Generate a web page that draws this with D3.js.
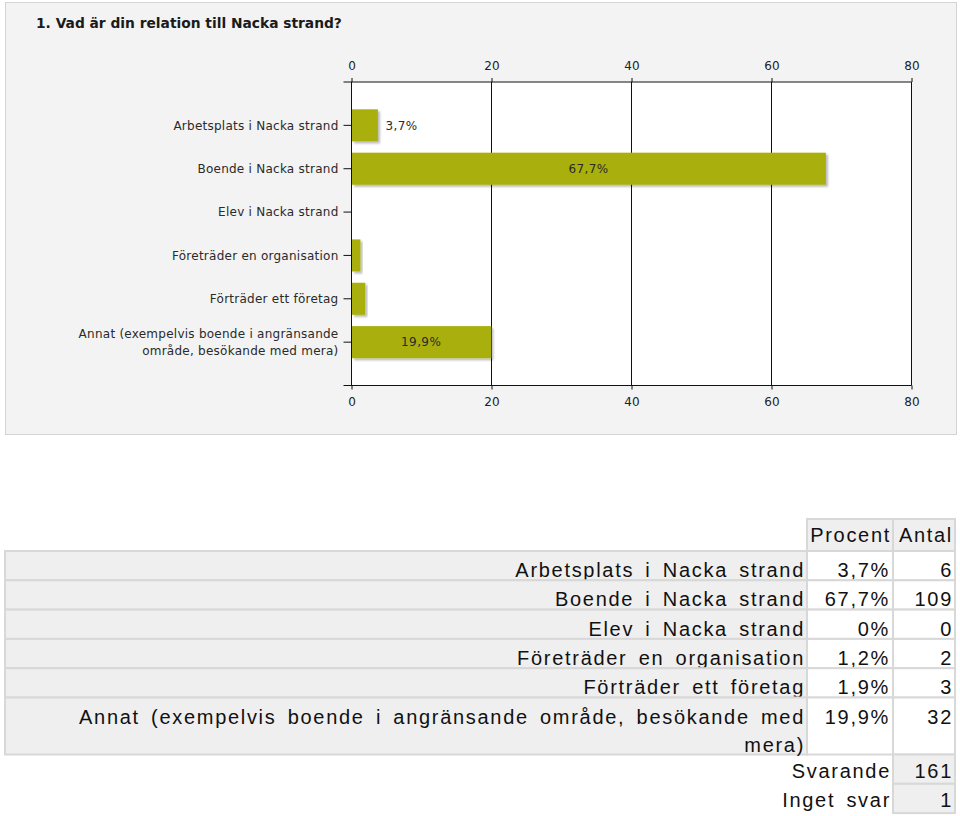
<!DOCTYPE html>
<html>
<head>
<meta charset="utf-8">
<script src="https://cdn.jsdelivr.net/npm/d3@7"></script>
<style>
  html, body { margin: 0; padding: 0; background: #ffffff; }
  svg { display: block; }
</style>
</head>
<body>
<svg id="chart" width="960" height="816"></svg>
<script>
// ---------- DATA ----------
const title = "1. Vad är din relation till Nacka strand?";
const categories = [
  "Arbetsplats i Nacka strand",
  "Boende i Nacka strand",
  "Elev i Nacka strand",
  "Företräder en organisation",
  "Förträder ett företag",
  "Annat (exempelvis boende i angränsande område, besökande med mera)"
];
const chartLabelLines = [
  ["Arbetsplats i Nacka strand"],
  ["Boende i Nacka strand"],
  ["Elev i Nacka strand"],
  ["Företräder en organisation"],
  ["Förträder ett företag"],
  ["Annat (exempelvis boende i angränsande", "område, besökande med mera)"]
];
const tableLabelLines = [
  ["Arbetsplats i Nacka strand"],
  ["Boende i Nacka strand"],
  ["Elev i Nacka strand"],
  ["Företräder en organisation"],
  ["Förträder ett företag"],
  ["Annat (exempelvis boende i angränsande område, besökande med", "mera)"]
];
const percents = [3.7, 67.7, 0, 1.2, 1.9, 19.9];
const counts = [6, 109, 0, 2, 3, 32];
const xTicks = [0, 20, 40, 60, 80];
const tableHeaders = ["Procent", "Antal"];
const summaryLabels = ["Svarande", "Inget svar"];
const summaryValues = [161, 1];

const fmtPct = v => (v === 0 ? "0" : v.toFixed(1).replace(".", ",")) + "%";

// ---------- CHART ----------
const svg = d3.select("#chart");
const defs = svg.append("defs");
const f = defs.append("filter").attr("id", "shadow")
  .attr("x", "-10%").attr("y", "-20%").attr("width", "130%").attr("height", "160%");
f.append("feDropShadow").attr("dx", 2).attr("dy", 2).attr("stdDeviation", 1.2)
  .attr("flood-color", "#000").attr("flood-opacity", 0.28);

const chartFont = "'DejaVu Sans', Verdana, sans-serif";

// panel
svg.append("rect").attr("x", 5.5).attr("y", 2.5).attr("width", 951).attr("height", 432)
  .attr("fill", "#f3f3f3").attr("stroke", "#d4d4d4");

svg.append("text").attr("x", 36).attr("y", 28)
  .attr("font-family", chartFont)
  .attr("font-weight", "bold").attr("font-size", 13.8).attr("fill", "#1a1a1a")
  .text(title);

const plotTop = 82, plotBottom = 385.5, axisExt = 8;
const x = d3.scaleLinear().domain([0, 80]).range([351.5, 911.5]);
const y = d3.scaleBand().domain(categories).range([plotTop, plotBottom])
  .paddingInner(0.26).paddingOuter(0.63);

svg.append("rect").attr("x", x(0)).attr("y", plotTop)
  .attr("width", x(80) - x(0)).attr("height", plotBottom - plotTop).attr("fill", "#ffffff");

// grid lines
svg.append("g").selectAll("line").data(xTicks.filter(d => d > 0)).join("line")
  .attr("x1", d => x(d)).attr("x2", d => x(d))
  .attr("y1", plotTop).attr("y2", plotBottom)
  .attr("stroke", "#111").attr("stroke-width", 1);

// bars
svg.append("g").selectAll("rect").data(categories).join("rect")
  .attr("x", x(0) + 0.5)
  .attr("y", d => y(d))
  .attr("width", (d, i) => Math.max(0, x(percents[i]) - x(0)))
  .attr("height", y.bandwidth())
  .attr("fill", "#a9b010")
  .attr("filter", (d, i) => percents[i] > 0 ? "url(#shadow)" : null);

// value labels
svg.append("g").selectAll("text").data(categories).join("text")
  .attr("font-family", chartFont)
  .attr("font-size", 12).attr("letter-spacing", 0.4).attr("fill", "#2a2a2a")
  .attr("dy", "0.35em")
  .attr("y", d => y(d) + y.bandwidth() / 2)
  .attr("x", (d, i) => {
    const w = x(percents[i]) - x(0);
    return w > 60 ? x(0) + w / 2 : x(percents[i]) + 8;
  })
  .attr("text-anchor", (d, i) => (x(percents[i]) - x(0)) > 60 ? "middle" : "start")
  .text((d, i) => percents[i] >= 3 ? fmtPct(percents[i]) : "");

// axes
const tickFont = g => g.selectAll("text")
  .attr("font-family", chartFont)
  .attr("font-size", 12).attr("fill", "#222");

const topAxis = svg.append("g").attr("transform", `translate(0,${plotTop})`)
  .call(d3.axisTop(x).tickValues(xTicks).tickSize(4).tickSizeOuter(0).tickPadding(8))
  .call(tickFont);
const botAxis = svg.append("g").attr("transform", `translate(0,${plotBottom})`)
  .call(d3.axisBottom(x).tickValues(xTicks).tickSize(4).tickSizeOuter(0).tickPadding(8))
  .call(tickFont);
[topAxis, botAxis].forEach(g => {
  g.select(".domain").remove();
  g.selectAll("line").attr("stroke", "#111");
});
// axis base lines extending left of zero
[plotTop, plotBottom].forEach(yy => {
  svg.append("line").attr("x1", x(0) - axisExt).attr("x2", x(80))
    .attr("y1", yy).attr("y2", yy).attr("stroke", "#111");
});

const leftAxis = svg.append("g").attr("transform", `translate(${x(0)},0)`)
  .call(d3.axisLeft(y).tickSize(8).tickSizeOuter(0).tickPadding(4).tickFormat(""));
leftAxis.select(".domain").remove();
leftAxis.selectAll("line").attr("stroke", "#111");
svg.append("line").attr("x1", x(0)).attr("x2", x(0))
  .attr("y1", plotTop).attr("y2", plotBottom).attr("stroke", "#111");

const labelX = x(0) - 13;
const catLabels = svg.append("g").selectAll("text").data(categories).join("text")
  .attr("font-family", chartFont)
  .attr("font-size", 12).attr("letter-spacing", 0.25).attr("fill", "#2a2a2a")
  .attr("text-anchor", "end")
  .attr("x", labelX)
  .attr("y", d => y(d) + y.bandwidth() / 2);
catLabels.each(function(d, i) {
  const lines = chartLabelLines[i];
  const n = lines.length, lh = 17;
  d3.select(this).selectAll("tspan").data(lines).join("tspan")
    .attr("x", labelX)
    .attr("dy", (l, j) => j === 0 ? (0.35 * 12 - (n - 1) * lh / 2) + "px" : lh + "px")
    .text(l => l);
});

// ---------- TABLE ----------
const colX = [5, 807, 893, 955];
const headerTop = 519, headerH = 32;
const rowH = 29.3, multiRowH = 57;
const lineH = 28;
const tFont = "'Liberation Sans', Arial, Helvetica, sans-serif";
const tSize = 20, tSpacing = 1.7, tWordSpacing = 4;
const borderCol = "#d8d8d8", grayBg = "#efefef";

const table = svg.append("g");
function cell(x0, x1, y0, y1, fill) {
  table.append("rect").attr("x", x0).attr("y", y0)
    .attr("width", x1 - x0).attr("height", y1 - y0)
    .attr("fill", fill).attr("stroke", borderCol).attr("stroke-width", 2);
}
function txt(xr, yb, s) {
  table.append("text").attr("x", xr).attr("y", yb)
    .attr("text-anchor", "end").attr("font-family", tFont)
    .attr("font-size", tSize).attr("letter-spacing", tSpacing)
    .attr("word-spacing", tWordSpacing)
    .attr("fill", "#111").text(s);
}

// header
tableHeaders.forEach((h, j) => {
  cell(colX[j + 1], colX[j + 2], headerTop, headerTop + headerH, grayBg);
  txt(colX[j + 2] - 2, headerTop + headerH - 9, h);
});

let yy = headerTop + headerH;
categories.forEach((c, i) => {
  const lines = tableLabelLines[i];
  const h = lines.length > 1 ? multiRowH : rowH;
  cell(colX[0], colX[1], yy, yy + h, grayBg);
  cell(colX[1], colX[2], yy, yy + h, "#ffffff");
  cell(colX[2], colX[3], yy, yy + h, "#ffffff");
  lines.forEach((l, j) => txt(colX[1] - 2, yy + 26 + j * lineH, l));
  txt(colX[2] - 3, yy + 26, fmtPct(percents[i]));
  txt(colX[3] - 2, yy + 26, counts[i]);
  yy += h;
});

summaryLabels.forEach((s, i) => {
  cell(colX[2], colX[3], yy, yy + rowH, grayBg);
  txt(colX[2] - 2, yy + 23, s);
  txt(colX[3] - 2, yy + 23, summaryValues[i]);
  yy += rowH;
});
</script>
</body>
</html>
